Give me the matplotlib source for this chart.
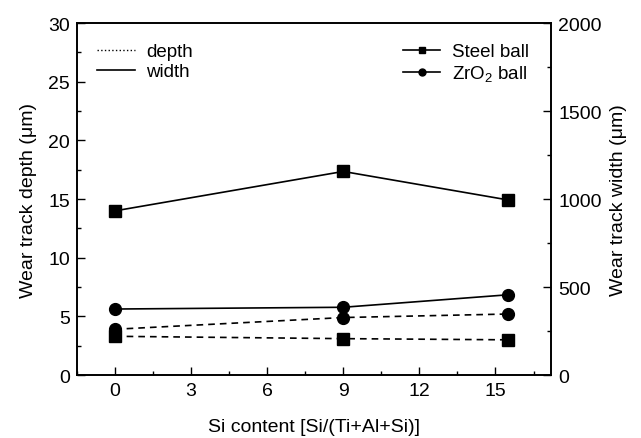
import matplotlib
matplotlib.use('Agg')
import matplotlib.pyplot as plt
from matplotlib.lines import Line2D
from matplotlib.ticker import MultipleLocator

plt.rcParams['font.family'] = ['Liberation Sans', 'DejaVu Sans']
plt.rcParams['mathtext.fontset'] = 'custom'
plt.rcParams['mathtext.rm'] = 'Liberation Sans'

si = [0, 9, 15.5]
steel_width = [933, 1157, 995]
zro2_width = [375, 385, 456]
steel_depth = [3.3, 3.1, 3.0]
zro2_depth = [3.9, 4.9, 5.2]

fig = plt.figure(figsize=(6.41, 4.39), dpi=100)
ax = fig.add_axes([0.120, 0.1435, 0.740, 0.8015])
ax2 = ax.twinx()

ax.plot(si, steel_depth, ls=(0, (4, 3)), color='black', lw=1.2, marker='s', ms=8.5)
ax.plot(si, zro2_depth, ls=(0, (4, 3)), color='black', lw=1.2, marker='o', ms=8.5)
ax2.plot(si, steel_width, ls='-', color='black', lw=1.2, marker='s', ms=8.5)
ax2.plot(si, zro2_width, ls='-', color='black', lw=1.2, marker='o', ms=8.5)

ax.set_xlim(-1.5, 17.2)
ax.set_ylim(0, 30)
ax2.set_ylim(0, 2000)
ax.xaxis.set_major_locator(MultipleLocator(3))
ax.xaxis.set_minor_locator(MultipleLocator(1.5))
ax.yaxis.set_major_locator(MultipleLocator(5))
ax.yaxis.set_minor_locator(MultipleLocator(2.5))
ax2.yaxis.set_major_locator(MultipleLocator(500))
ax2.yaxis.set_minor_locator(MultipleLocator(250))

for a in (ax, ax2):
    a.tick_params(which='both', direction='in', labelsize=14, width=1)
    a.tick_params(which='major', length=6, pad=5)
    a.tick_params(which='minor', length=3)
    for s in a.spines.values():
        s.set_linewidth(1.2)

ax.set_xlabel('Si content [Si/(Ti+Al+Si)]', fontsize=14, labelpad=14)
ax.set_ylabel('Wear track depth (\u03bcm)', fontsize=14, labelpad=8)
ax2.set_ylabel('Wear track width (\u03bcm)', fontsize=14, labelpad=6)

h1 = [Line2D([], [], color='black', ls=':', lw=1),
      Line2D([], [], color='black', ls='-', lw=1.2)]
leg1 = ax.legend(h1, ['depth', 'width'], loc='upper left', frameon=False,
                 fontsize=13.5, handlelength=2.0, handletextpad=0.6,
                 labelspacing=0.15, borderaxespad=0.3,
                 bbox_to_anchor=(0.015, 0.98))
ax.add_artist(leg1)
h2 = [Line2D([], [], color='black', ls='-', lw=1.2, marker='s', ms=5),
      Line2D([], [], color='black', ls='-', lw=1.2, marker='o', ms=5)]
ax.legend(h2, ['Steel ball', 'ZrO$_2$ ball'], loc='upper right', frameon=False,
          fontsize=13.5, handlelength=2.0, handletextpad=0.6,
          labelspacing=0.15, borderaxespad=0.3,
          bbox_to_anchor=(0.98, 0.98))

fig.savefig('out.png', dpi=100)
